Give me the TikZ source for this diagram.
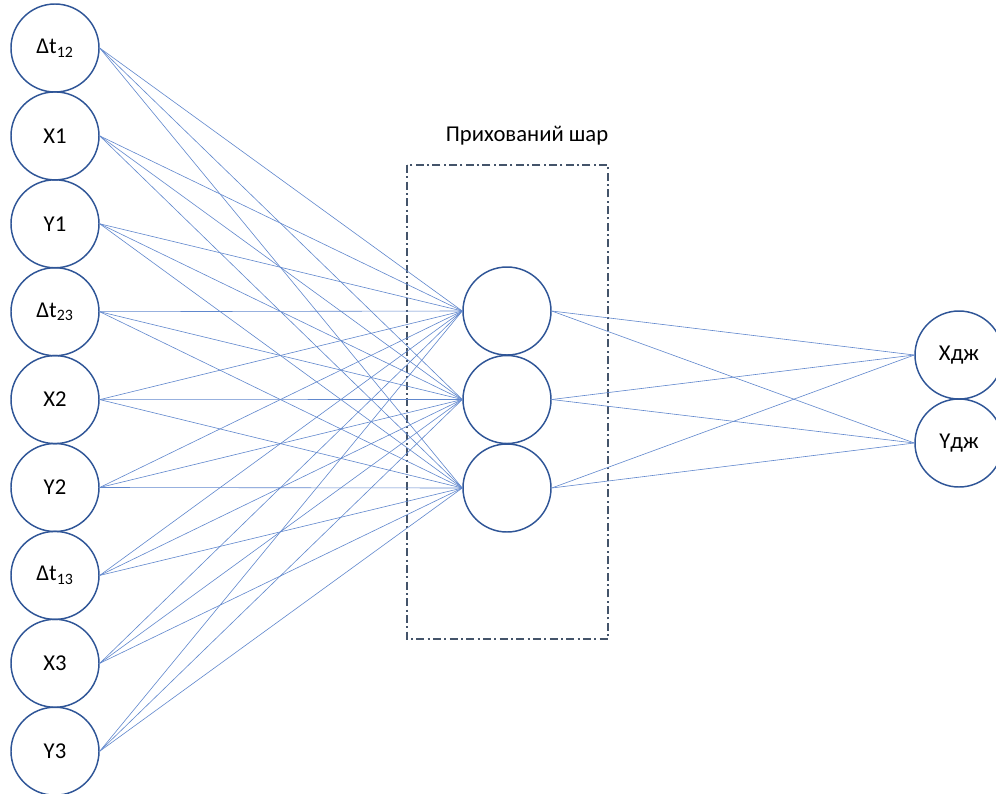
\documentclass[tikz,border=0pt]{standalone}
\usepackage{fontspec}
\setmainfont{Carlito}
\definecolor{circblue}{RGB}{47,85,151}
\definecolor{linkblue}{RGB}{68,114,196}
\definecolor{rectgray}{RGB}{68,84,106}
\tikzset{
  neuron/.style={circle, draw=circblue, line width=1.1pt, minimum size=66pt, inner sep=0pt, font=\fontsize{17}{20}\selectfont},
  link/.style={draw=linkblue!85, line width=0.45pt},
  hiddenbox/.style={draw=rectgray, line width=1.1pt, dash pattern=on 6pt off 2.5pt on 1.5pt off 2.5pt},
}
\begin{document}
\begin{tikzpicture}[x=0.75pt,y=-0.75pt]
\useasboundingbox (0,0) rectangle (996,793);
\clip (0,0) rectangle (996,793);
\fill[white] (0,0) rectangle (996,793);
% input layer
\foreach \n/\t [count=\k from 0] in {i1/{Δt\textsubscript{12}},i2/X1,i3/Y1,i4/{Δt\textsubscript{23}},i5/X2,i6/Y2,i7/{Δt\textsubscript{13}},i8/X3,i9/Y3}
  \node[neuron] (\n) at (55,{48+87.9*\k}) {\t};
% hidden layer
\node[neuron] (h1) at (507,311) {};
\node[neuron] (h2) at (507,399.5) {};
\node[neuron] (h3) at (507,488) {};
% output layer
\node[neuron] (o1) at (959,355) {Xдж};
\node[neuron] (o2) at (959,443) {Yдж};
% hidden box
\draw[hiddenbox] (407,165) rectangle (608,639);
\node[font=\fontsize{17}{20}\selectfont] (lbl) at (527,136) {Прихований шар};
% connections
\foreach \i in {i1,i2,i3,i4,i5,i6,i7,i8,i9}
  \foreach \h in {h1,h2,h3}
    \draw[link] (\i.east) -- (\h.west);
\foreach \h in {h1,h2,h3}
  \foreach \o in {o1,o2}
    \draw[link] (\h.east) -- (\o.west);
\end{tikzpicture}
\end{document}
